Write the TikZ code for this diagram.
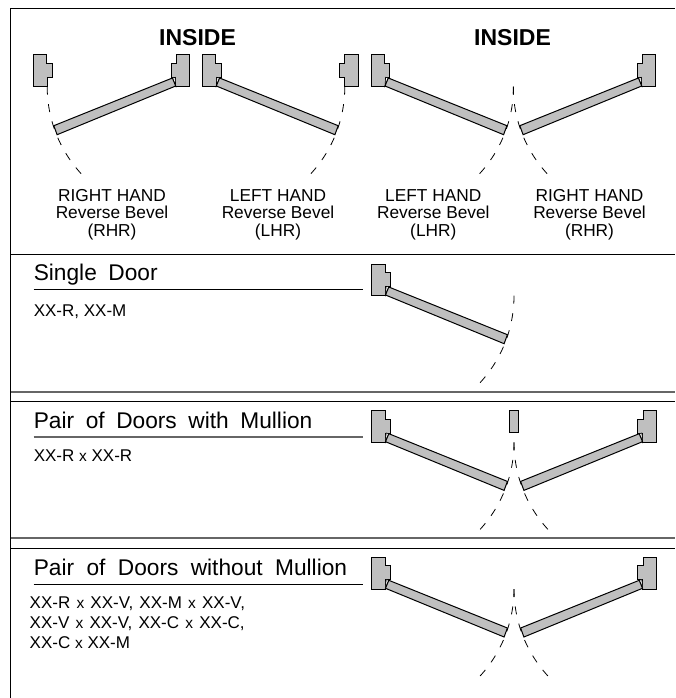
\documentclass[tikz,border=0pt]{standalone}
\usepackage{fontspec}
\setmainfont{Liberation Sans}
\newcommand{\strikeframe}{%
  \path[framefill] (0,0) -- (13.5,0) -- (13.5,8.3) -- (18.7,8.3) -- (18.7,22.3) -- (14,22.3) -- (14,31.7) -- (0,31.7) -- cycle;
}
\newcommand{\swingarc}{%
  \draw[swing] (142.5,31.7) arc[start angle=0,end angle=43,radius=128.5];
}
\newcommand{\doorleaf}{%
  \strikeframe
  \path[draw=black,fill=white,line width=0.6pt] (14,31) -- (14.6,22.3) -- (17.3,23) -- cycle;
  \path[framefill] (14,31) -- (17.3,23) -- (135.9,70.7) -- (132.6,79.7) -- cycle;
  \swingarc
}
\newcommand{\singleleaf}[2]{\begin{scope}[shift={(#1,#2)}]\doorleaf\end{scope}}
\newcommand{\mirrorleaf}[2]{\begin{scope}[shift={(#1,#2)},xscale=-1]\doorleaf\end{scope}}
\newcommand{\headspace}{\spaceskip=11.6pt\relax}
\newcommand{\modelspace}{\spaceskip=6.2pt\relax}
\tikzset{
  x=1pt,y=-1pt,
  framefill/.style={draw=black,fill=doorgray,line width=1pt,line join=miter},
  swing/.style={draw=black,line width=0.8pt,dash pattern=on 8pt off 9.5pt},
  rule/.style={draw=black,line width=1pt},
  softrule/.style={draw=black!60,line width=1.7pt},
  inside/.style={font=\fontsize{23}{26}\selectfont\bfseries,anchor=base,inner sep=0pt},
  hand/.style={font=\fontsize{17.3}{18}\selectfont,anchor=base,inner sep=0pt},
  heading/.style={font=\fontsize{22.7}{26}\selectfont,anchor=base west,inner sep=0pt},
  model/.style={font=\fontsize{17}{20}\selectfont,anchor=base west,inner sep=0pt},
}
\definecolor{doorgray}{gray}{0.75}
\newcommand{\cross}{{\fontsize{15.5}{15.5}\selectfont x}}
\begin{document}
\begin{tikzpicture}
\useasboundingbox (0,0) rectangle (675,698);
\fill[white] (0,0) rectangle (675,698);
% outer rules
\draw[rule] (10.8,698) -- (10.8,8.5) -- (675,8.5);
\draw[rule] (10.8,254.3) -- (675,254.3);
\draw[softrule] (10.8,391.7) -- (675,391.7);
\draw[rule] (10.8,401) -- (675,401);
\draw[softrule] (10.8,538.3) -- (675,538.3);
\draw[rule] (10.8,548.3) -- (675,548.3);
\draw[rule] (33.6,289.3) -- (363,289.3);
\draw[softrule] (33.6,436.7) -- (363,436.7);
\draw[rule] (33.6,584) -- (363,584);
% top row
\node[inside] (insideA) at (197.5,46) {INSIDE};
\node[inside] (insideB) at (512.5,46) {INSIDE};
\begin{scope}[shift={(33.3,55)}]\strikeframe\end{scope}
\mirrorleaf{189.7}{55}
\singleleaf{202.3}{55}
\begin{scope}[shift={(358.3,55)},xscale=-1]\strikeframe\end{scope}
\singleleaf{371}{55}
\mirrorleaf{655.7}{55}
\node[hand] (a1) at (112,201.7) {RIGHT HAND};
\node[hand] (a2) at (112,218.7) {Reverse Bevel};
\node[hand] (a3) at (112,236.7) {(RHR)};
\node[hand] (b1) at (278,201.7) {LEFT HAND};
\node[hand] (b2) at (278,218.7) {Reverse Bevel};
\node[hand] (b3) at (278,236.7) {(LHR)};
\node[hand] (c1) at (433.3,201.7) {LEFT HAND};
\node[hand] (c2) at (433.3,218.7) {Reverse Bevel};
\node[hand] (c3) at (433.3,236.7) {(LHR)};
\node[hand] (d1) at (589.5,201.7) {RIGHT HAND};
\node[hand] (d2) at (589.5,218.7) {Reverse Bevel};
\node[hand] (d3) at (589.5,236.7) {(RHR)};
% single door
\node[heading] (h1) at (33.6,280) {\headspace Single Door};
\node[model] (m1) at (33.6,316) {XX-R, XX-M};
\singleleaf{371.5}{264}
% pair with mullion
\node[heading] (h2) at (33.6,428) {\headspace Pair of Doors with Mullion};
\node[model] (m2) at (33.6,461.7) {XX-R \cross{} XX-R};
\singleleaf{371.5}{410.7}
\mirrorleaf{656.5}{410.7}
\path[framefill] (509.5,410.7) rectangle (518.5,432.7);
% pair without mullion
\node[heading] (h3) at (33.6,575) {\spaceskip=12.4pt\relax Pair of Doors without Mullion};
\node[model] (m3) at (29.5,608) {\modelspace XX-R \cross{} XX-V, XX-M \cross{} XX-V,};
\node[model] (m4) at (29.5,628) {\modelspace XX-V \cross{} XX-V, XX-C \cross{} XX-C,};
\node[model] (m5) at (29.5,648) {XX-C \cross{} XX-M};
\singleleaf{371.5}{557.3}
\mirrorleaf{656.5}{557.3}
\end{tikzpicture}
\end{document}
